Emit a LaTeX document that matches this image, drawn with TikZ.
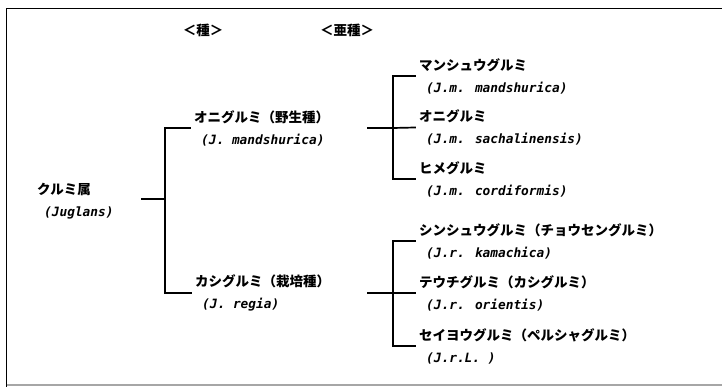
\documentclass[tikz,border=0pt]{standalone}
\usepackage{fontspec}
\newfontfamily\jp{Noto Sans CJK JP}
\newfontfamily\lat{DejaVu Sans Mono}
\tikzset{
  conn/.style={line width=1.7pt, line cap=rect},
  frameline/.style={line width=1.6pt},
  entry/.style={anchor=west, inner ysep=0pt, inner xsep=4pt, align=left,
     font=\jp\bfseries\fontsize{13.5}{22}\selectfont},
  heading/.style={inner sep=0pt, font=\jp\bfseries\fontsize{13.5}{16}\selectfont}
}
\newcommand{\latn}[1]{\hspace*{7pt}{\lat\bfseries\itshape\fontsize{12.8}{22}\selectfont #1}}
\begin{document}
\begin{tikzpicture}[x=1pt,y=-1pt]
\useasboundingbox (0,0) rectangle (722,387);
% frame
\draw[frameline] (722,8.5) -- (6.5,8.5) -- (6.5,387);
\draw[line width=1.2pt, black!35] (6.5,385) -- (722,385);
% headings
\node[heading] (hsp) at (203,30) {＜種＞};
\node[heading] (hsub) at (347,30) {＜亜種＞};
% root
\node[entry, inner xsep=0pt] (root) at (37,201) {クルミ属\\\latn{(Juglans)}};
% species
\node[entry] (oni) at (190,128) {オニグルミ（野生種）\\\latn{(J. mandshurica)}};
\node[entry] (kashi) at (191,293) {カシグルミ（栽培種）\\\latn{(J. regia)}};
% subspecies
\node[entry] (s1) at (415,76) {マンシュウグルミ\\\latn{(J.m. mandshurica)}};
\node[entry] (s2) at (415,127.5) {オニグルミ\\\latn{(J.m. sachalinensis)}};
\node[entry] (s3) at (415,179) {ヒメグルミ\\\latn{(J.m. cordiformis)}};
\node[entry] (s4) at (415,241) {シンシュウグルミ（チョウセングルミ）\\\latn{(J.r. kamachica)}};
\node[entry] (s5) at (415,293) {テウチグルミ（カシグルミ）\\\latn{(J.r. orientis)}};
\node[entry] (s6) at (415,346) {セイヨウグルミ（ペルシャグルミ）\\\latn{(J.r.L. )}};
% junctions
\coordinate (rootout) at (142,199);
\coordinate (j1) at (165,199);
\coordinate (oniout) at (368,128);
\coordinate (j2) at (393,128);
\coordinate (kashiout) at (368,293);
\coordinate (j3) at (393,293);
% connectors
\draw[conn] (rootout) -- (j1);
\draw[conn] (oni.west) -| (j1) |- (kashi.west);
\draw[conn] (oniout) -- (j2);
\draw[conn] (s1.west) -| (j2) |- (s3.west);
\draw[conn] (j2) -- (s2.west);
\draw[conn] (kashiout) -- (j3);
\draw[conn] (s4.west) -| (j3) |- (s6.west);
\draw[conn] (j3) -- (s5.west);
\end{tikzpicture}
\end{document}
